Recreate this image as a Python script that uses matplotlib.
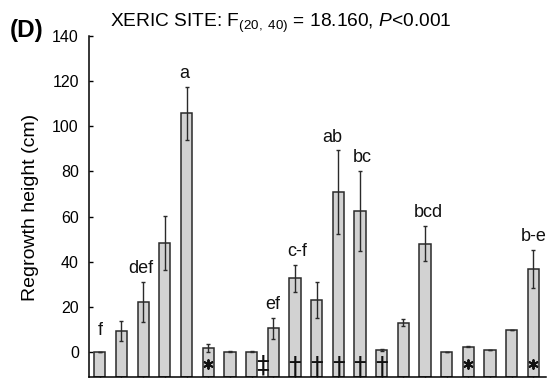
import matplotlib
matplotlib.use("Agg")
import matplotlib.pyplot as plt
import numpy as np

plt.rcParams["font.family"] = ["Liberation Sans", "DejaVu Sans"]
plt.rcParams["mathtext.fontset"] = "custom"
plt.rcParams["mathtext.rm"] = "Liberation Sans"
plt.rcParams["mathtext.it"] = "Liberation Sans:italic"
plt.rcParams["mathtext.bf"] = "Liberation Sans:bold"

# Mean regrowth height (cm) and standard error for the 21 treatments
means = [0.3, 9.5, 22.3, 48.4, 105.6, 2.0, 0.3, 0.3, 10.7, 32.7, 23.1,
         70.8, 62.5, 0.9, 13.1, 48.1, 0.2, 2.5, 0.9, 10.0, 36.8]
errors = [0.0, 4.5, 9.0, 11.8, 11.7, 1.8, 0.2, 0.2, 4.7, 6.0, 7.8,
          18.5, 17.8, 0.5, 1.5, 7.8, 0.0, 0.2, 0.0, 0.1, 8.4]

# Post-hoc grouping letters (treatment number -> letters)
letter_bars = [1, 3, 5, 9, 10, 12, 13, 16, 21]
letters = ["f", "def", "a", "ef", "c-f", "ab", "bc", "bcd", "b-e"]
letter_shift = [0.0, -0.1, -0.1, 0.0, 0.1, -0.3, 0.1, 0.15, 0.0]

# Symbols drawn below the bars
star_bars = [6, 18, 21]
dagger_bars = [10, 11, 12, 13, 14]
ddagger_pos = [8.5]

y_min, y_max = -11, 140
x = np.arange(1, len(means) + 1)

fig = plt.figure(figsize=(5.48, 3.81), dpi=100)
ax = fig.add_axes([88.5 / 548, 1 - 377.3 / 381, (546 - 88.5) / 548, (377.3 - 35.5) / 381])

# bars rise from the bottom of the plotting frame
heights = np.array(means) - y_min
ax.bar(x, heights, bottom=y_min, width=0.52, color="#d2d2d2", edgecolor="#2a2a2a",
       linewidth=1.1, zorder=2)
ax.errorbar(x, means, yerr=errors, fmt="none", ecolor="#2a2a2a", elinewidth=1.0,
            capsize=1.5, capthick=1.0, zorder=3)

for b, lab, dx in zip(letter_bars, letters, letter_shift):
    i = b - 1
    top = max(means[i] + errors[i], 4.0)
    ax.text(b + dx, top + 3.8, lab, ha="center", va="baseline", fontsize=13, color="#111111")

ax.scatter(star_bars, [-5.2] * len(star_bars), marker=(6, 2, 0), s=40, color="#111111",
           linewidths=1.4, zorder=4)
for b in dagger_bars:
    ax.text(b, -6.2, "\u2020", ha="center", va="center", fontsize=18,
            color="#111111", family="DejaVu Sans", zorder=4)
for b in ddagger_pos:
    ax.text(b, -6.0, "\u2021", ha="center", va="center", fontsize=18,
            color="#111111", family="DejaVu Sans", zorder=4)

ax.set_xlim(0.48, 21.58)
ax.set_ylim(y_min, y_max)
ax.set_yticks(np.arange(0, 141, 20))
ax.set_xticks(x)
ax.set_xticklabels([])
ax.tick_params(axis="y", direction="in", length=3, width=1, labelsize=11.5, pad=7)
ax.tick_params(axis="x", direction="in", length=2.5, width=1)
for s in ["top", "right"]:
    ax.spines[s].set_visible(False)
for s in ["left", "bottom"]:
    ax.spines[s].set_linewidth(1.1)
    ax.spines[s].set_zorder(5)

fig.text(31 / 548, 1 - 207 / 381, "Regrowth height (cm)", rotation=90, ha="center",
         va="center", fontsize=14)
fig.text(10 / 548, 1 - 37 / 381, "(D)", fontsize=17.5, fontweight="bold", va="baseline")
fig.text(110 / 548, 1 - 27.3 / 381,
         r"XERIC SITE: F$_{\mathrm{(20,\ 40)}}$ = 18.160, $P$<0.001",
         fontsize=13.8, va="baseline")

fig.savefig("out.png", dpi=100)
